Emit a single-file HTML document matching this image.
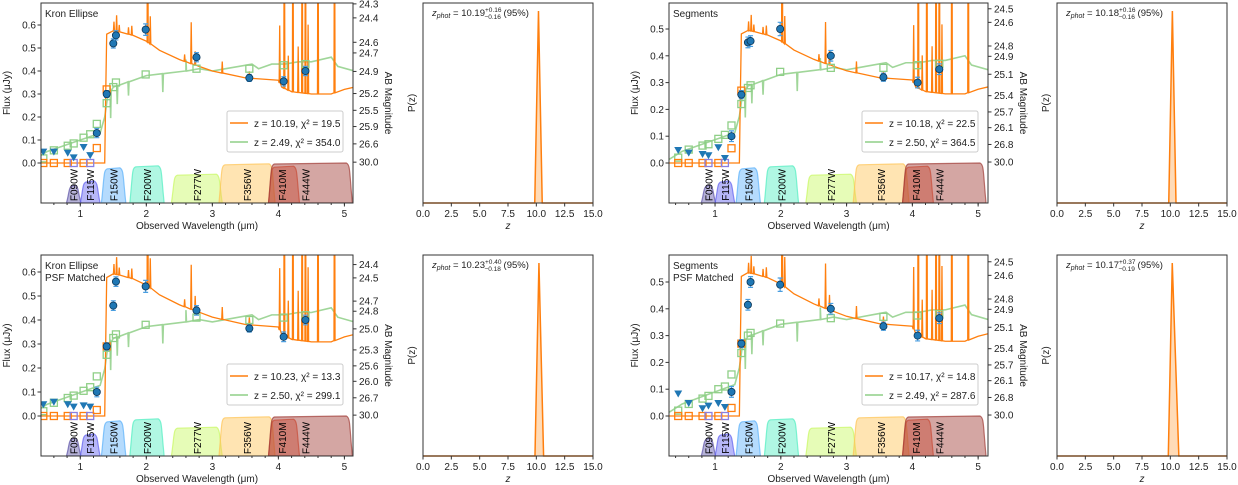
<!DOCTYPE html>
<html><head><meta charset="utf-8">
<style>
html,body{margin:0;padding:0;background:#fff;}
svg{display:block;font-family:"Liberation Sans","DejaVu Sans",sans-serif;}
</style></head>
<body>
<svg id="fig" width="1238" height="485" viewBox="0 0 1238 485" xmlns="http://www.w3.org/2000/svg"></svg>
<script>
// ---------- data ----------
const panelTitles = [["Kron Ellipse"],["Segments"],["Kron Ellipse","PSF Matched"],["Segments","PSF Matched"]];
const legendHigh = ["z = 10.19, χ² = 19.5","z = 10.18, χ² = 22.5","z = 10.23, χ² = 13.3","z = 10.17, χ² = 14.8"];
const legendLow = ["z = 2.49, χ² = 354.0","z = 2.50, χ² = 364.5","z = 2.50, χ² = 299.1","z = 2.49, χ² = 287.6"];
const detWl = [1.25,1.40,1.50,1.54,1.99,2.76,3.56,4.08,4.41];
const p1Det = [0.13,0.30,0.52,0.555,0.58,0.46,0.37,0.355,0.40];
const p2Det = [0.10,0.255,0.45,0.455,0.50,0.40,0.32,0.30,0.35];
const p3Det = [0.10,0.29,0.46,0.56,0.54,0.44,0.365,0.33,0.40];
const p4Det = [0.09,0.27,0.415,0.50,0.49,0.40,0.335,0.30,0.365];
const detErr = [0.02,0.015,0.02,0.02,0.025,0.02,0.015,0.02,0.02];
const limWl = [0.44,0.6,0.81,0.9,1.05,1.15];
const p1Lim = [0.045,0.045,0.04,0.02,0.065,0.03];
const p2Lim = [0.045,0.035,0.03,0.025,0.055,0.015];
const p3Lim = [0.045,0.055,0.045,0.035,0.04,0.035];
const p4Lim = [0.08,0.045,0.025,0.035,0.045,0.03];
const oSqWl = [0.44,0.6,0.81,0.9,1.05,1.15,1.25,1.40];
const p1OSq = [0,0,0,0,0,0,0.065,0.32];
const p2OSq = [0,0,0,0,0,0,0.055,0.27];
const p3OSq = [0,0,0,0,0,0,0.025,0.29];
const p4OSq = [0,0,0,0,0,0,0.03,0.27];
const gSqWl = [0.44,0.6,0.81,0.9,1.05,1.15,1.25,1.40,1.50,1.54,1.99,2.76,3.56,4.08,4.41];
const p1GSq = [0.02,0.055,0.075,0.085,0.11,0.125,0.17,0.26,0.33,0.35,0.385,0.41,0.41,0.425,0.43];
const p2GSq = [0.02,0.05,0.065,0.07,0.09,0.105,0.14,0.22,0.28,0.29,0.34,0.355,0.355,0.365,0.37];
const p3GSq = [0.02,0.055,0.075,0.085,0.105,0.12,0.165,0.255,0.325,0.34,0.38,0.41,0.40,0.41,0.42];
const p4GSq = [0.02,0.045,0.065,0.075,0.10,0.11,0.155,0.235,0.30,0.31,0.345,0.365,0.37,0.375,0.38];
// high-z template (continuum + emission lines)
const hiWl = [0.30,1.37,1.385,1.40,1.5,1.6,1.8,2.0,2.2,2.5,2.8,3.0,3.5,4.0,4.05,4.2,4.5,4.8,5.0,5.15];
const hiFlux = [0,0,0.3,0.56,0.575,0.57,0.555,0.53,0.49,0.45,0.42,0.40,0.37,0.36,0.33,0.31,0.30,0.30,0.32,0.33];
const hiLineWl = [1.51,1.55,1.59,1.73,1.78,2.02,2.06,2.58,2.68,2.74,3.15,3.56,4.02,4.09,4.15,4.22,4.30,4.36,4.41,4.45,4.6,4.85];
const hiLineAmp = [0.04,0.07,0.03,0.03,0.04,1.0,0.12,0.03,0.18,0.06,0.05,0.03,0.25,1.0,0.15,1.0,0.2,1.0,1.0,0.3,1.0,1.0];
// low-z template
const loWl = [0.30,0.5,0.7,0.9,1.1,1.3,1.37,1.42,1.5,1.7,2.0,2.3,2.6,2.8,3.0,3.2,3.4,3.6,3.7,3.9,4.1,4.3,4.5,4.8,4.9,5.15];
const loFlux = [0.015,0.05,0.07,0.09,0.11,0.13,0.2,0.30,0.33,0.35,0.38,0.39,0.40,0.41,0.40,0.41,0.42,0.43,0.41,0.43,0.43,0.44,0.44,0.46,0.42,0.40];
const loLineWl = [1.46,1.56,1.73,2.25,2.6];
const loLineAmp = [-0.12,-0.08,-0.06,-0.08,0.05];
const hiScale = [1,0.86,1.03,0.93];
const loScale = [1,0.87,0.98,0.9];
const p1Mag = [24.3,24.4,24.6,24.7,24.9,25.2,25.5,25.9,26.6,30.0];
const p2Mag = [24.5,24.6,24.8,24.9,25.1,25.4,25.7,26.1,26.8,30.0];
const p3Mag = [24.4,24.5,24.7,24.8,25.0,25.3,25.6,26.0,26.7,30.0];
const filtNames = ["F090W","F115W","F150W","F200W","F277W","F356W","F410M","F444W"];
const filtLo = [0.79,1.0,1.32,1.75,2.38,3.1,3.85,3.85];
const filtHi = [1.01,1.3,1.69,2.27,3.15,3.95,4.32,5.12];
const filtH = [0.45,0.55,0.88,0.93,0.72,0.98,0.92,1.0];
const filtCol = ["#5e54a8","#6060f0","#5ab0fa","#50eec0","#c8f860","#ffc455","#e85a3a","#a03a34"];
// P(z)
const zPhot = ["10.19","10.18","10.23","10.17"];
const zUp = ["+0.16","+0.16","+0.40","+0.37"];
const zLo = ["−0.16","−0.16","−0.18","−0.19"];
const pzZ1 = [0,9.86,10.19,10.52,15];
const pzZ2 = [0,9.86,10.18,10.50,15];
const pzZ3 = [0,9.88,10.23,10.64,15];
const pzZ4 = [0,9.82,10.17,10.75,15];
const pzP = [0,0,0.96,0,0];
const zTicks = [0,2.5,5,7.5,10,12.5,15];
const wlTicks = [1,2,3,4,5];

// ---------- layout ----------
const sedBox = [
 {x0:41,x1:353,y0:3,y1:203,wlL:0.405,wlR:5.13,yz:163,ps:230,yt:[0,0.1,0.2,0.3,0.4,0.5,0.6]},
 {x0:669,x1:988,y0:3,y1:203,wlL:0.30,wlR:5.15,yz:163,ps:268,yt:[0,0.1,0.2,0.3,0.4,0.5]},
 {x0:41,x1:353,y0:255,y1:456,wlL:0.405,wlR:5.13,yz:416,ps:240,yt:[0,0.1,0.2,0.3,0.4,0.5,0.6]},
 {x0:669,x1:988,y0:255,y1:456,wlL:0.30,wlR:5.15,yz:416,ps:268,yt:[0,0.1,0.2,0.3,0.4,0.5]}
];
const pzBox = [{x0:423,x1:593,y0:3,y1:203},{x0:1057,x1:1227,y0:3,y1:203},{x0:423,x1:593,y0:255,y1:456},{x0:1057,x1:1227,y0:255,y1:456}];
const dets=[p1Det,p2Det,p3Det,p4Det], lims=[p1Lim,p2Lim,p3Lim,p4Lim], osq=[p1OSq,p2OSq,p3OSq,p4OSq], gsq=[p1GSq,p2GSq,p3GSq,p4GSq];
const mags=[p1Mag,p2Mag,p3Mag,p2Mag], pzZs=[pzZ1,pzZ2,pzZ3,pzZ4];

const NS="http://www.w3.org/2000/svg";
const svg=document.getElementById('fig');
function el(tag,attrs,parent,text){const e=document.createElementNS(NS,tag);for(const k in attrs)e.setAttribute(k,attrs[k]);if(text!==undefined)e.textContent=text;(parent||svg).appendChild(e);return e;}
function interp(xs,ys,x){if(x<=xs[0])return ys[0];for(let i=1;i<xs.length;i++){if(x<=xs[i]){const t=(x-xs[i-1])/(xs[i]-xs[i-1]);return ys[i-1]+t*(ys[i]-ys[i-1]);}}return ys[ys.length-1];}
function spectrum(cw,cf,lw,la,sc){let pts=cw.map((w,i)=>[w,cf[i]*sc]);lw.forEach((w,i)=>{const c=interp(cw,cf,w)*sc;pts.push([w-0.008,c],[w,c+la[i]*(la[i]>=1?1:sc)],[w+0.008,c]);});pts.sort((a,b)=>a[0]-b[0]);return pts;}

for(let p=0;p<4;p++){
 const B=sedBox[p];
 const X=w=>B.x0+(w-B.wlL)/(B.wlR-B.wlL)*(B.x1-B.x0);
 const Y=f=>B.yz-f*B.ps;
 const g=el('g',{});
 
 
 const cp=el('clipPath',{id:'c'+p},g);el('rect',{x:B.x0,y:B.y0,width:B.x1-B.x0,height:B.y1-B.y0},cp);
 const inner=el('g',{'clip-path':'url(#c'+p+')'},g);
 // filters
 filtNames.forEach((n,i)=>{
  const top=B.y1-(B.y1-B.yz)*filtH[i];
  const a=X(filtLo[i]),b=X(filtHi[i]);
  const d=`M${a},${B.y1} C${a+3},${top+8} ${a+2},${top+2} ${a+6},${top+1} L${b-6},${top} C${b-2},${top+2} ${b-3},${top+8} ${b},${B.y1} Z`;
  const f=el('path',{d:d,fill:filtCol[i],'fill-opacity':0.45,stroke:filtCol[i],'stroke-opacity':0.7,'stroke-width':1.2},inner);
  
  
 });
 filtNames.forEach((n,i)=>{
  const cx=(X(filtLo[i])+X(filtHi[i]))/2 + (i==7?-5:0) + (i==6?-2:0);
  const cy=B.y1-(B.y1-B.yz)*0.45;
  const t=el('text',{x:0,y:0,transform:`translate(${cx+4},${cy}) rotate(-90)`,'font-size':10,'text-anchor':'middle',fill:'#000'},inner,n);
  
  
 });
 // spectra
 const lo=spectrum(loWl,loFlux,loLineWl,loLineAmp,loScale[p]);
 const lp=el('polyline',{points:lo.map(q=>X(q[0])+','+Y(q[1])).join(' '),fill:'none',stroke:'#8fcf87','stroke-width':1.6,'stroke-opacity':0.85},inner);
 
 
 const hi=spectrum(hiWl,hiFlux,hiLineWl,hiLineAmp,hiScale[p]);
 const hp=el('polyline',{points:hi.map(q=>X(q[0])+','+Y(q[1])).join(' '),fill:'none',stroke:'#ff7f0e','stroke-width':1.3},inner);
 
 
 // model photometry squares
 gSqWl.forEach((w,i)=>{const s=el('rect',{x:X(w)-3.5,y:Y(gsq[p][i])-3.5,width:7,height:7,fill:'none',stroke:'#8fcf87','stroke-width':1.3},inner);
  });
 oSqWl.forEach((w,i)=>{const s=el('rect',{x:X(w)-3.5,y:Y(osq[p][i])-3.5,width:7,height:7,fill:'none',stroke:(i==3||i==5)?'#8a80e0':'#ff7f0e','stroke-width':1.3},inner);
  });
 // upper limits
 limWl.forEach((w,i)=>{const x=X(w),y=Y(lims[p][i]);const t=el('path',{d:`M${x-4},${y-4} L${x+4},${y-4} L${x},${y+3} Z`,fill:'#1f77b4'},inner);
  });
 // detections
 detWl.forEach((w,i)=>{const x=X(w),y=Y(dets[p][i]),e=detErr[i]*B.ps;
  const eb=el('path',{d:`M${x},${y-e} V${y+e} M${x-2.5},${y-e} H${x+2.5} M${x-2.5},${y+e} H${x+2.5}`,stroke:'#4a9ee0','stroke-width':1.2,fill:'none'},inner);
  
  const c=el('circle',{cx:x,cy:y,r:3.6,fill:'#1f77b4',stroke:'#0b3556','stroke-width':0.8},inner);
  });
 // frame
 el('rect',{x:B.x0,y:B.y0,width:B.x1-B.x0,height:B.y1-B.y0,fill:'none',stroke:'#333','stroke-width':1},g);
 // y ticks
 B.yt.forEach(v=>{const y=Y(v);el('line',{x1:B.x0-3.5,x2:B.x0,y1:y,y2:y,stroke:'#333'},g);
  const t=el('text',{x:B.x0-5,y:y+3.5,'font-size':10,'text-anchor':'end',fill:'#222'},g,v.toFixed(1));
  });
 // x ticks
 for(let w=Math.ceil(B.wlL*5)/5;w<=B.wlR;w+=0.2){el('line',{x1:X(w),x2:X(w),y1:B.y1,y2:B.y1+2,stroke:'#333'},g);}
 wlTicks.forEach(w=>{const x=X(w);el('line',{x1:x,x2:x,y1:B.y1,y2:B.y1+3.5,stroke:'#333'},g);
  const t=el('text',{x:x,y:B.y1+14,'font-size':10,'text-anchor':'middle',fill:'#222'},g,String(w));
  });
 // right mag ticks
 mags[p].forEach(m=>{const f=Math.pow(10,(23.9-m)/2.5);const y=Y(f);el('line',{x1:B.x1,x2:B.x1+3.5,y1:y,y2:y,stroke:'#333'},g);
  const t=el('text',{x:B.x1+6,y:y+3.5,'font-size':10,fill:'#222'},g,m.toFixed(1));
  });
 // axis labels
 const cy=(B.y0+B.y1)/2;
 const yl=el('text',{transform:`translate(${B.x0-31},${cy-10}) rotate(-90)`,'font-size':10,'text-anchor':'middle',fill:'#222'},g,'Flux (μJy)');
 
 const rl=el('text',{transform:`translate(${B.x1+32},${cy}) rotate(90)`,'font-size':10,'text-anchor':'middle',fill:'#222'},g,'AB Magnitude');
 
 const xl=el('text',{x:(B.x0+B.x1)/2,y:B.y1+26,'font-size':10,'text-anchor':'middle',fill:'#222'},g,'Observed Wavelength (μm)');
 
 panelTitles[p].forEach((s,i)=>{const t=el('text',{x:B.x0+4,y:B.y0+14+i*12,'font-size':10,fill:'#222'},g,s);
  });
 // legend
 const lx=B.x1-126,ly=B.yz-52;
 const lg=el('g',{},g);
 
 el('rect',{x:lx,y:ly,width:116,height:41,rx:2,fill:'#fff',stroke:'#ccc'},lg);
 el('line',{x1:lx+3,x2:lx+21,y1:ly+12,y2:ly+12,stroke:'#ff7f0e','stroke-width':1.5},lg);
 el('line',{x1:lx+3,x2:lx+21,y1:ly+31,y2:ly+31,stroke:'#8fcf87','stroke-width':1.5},lg);
 const e1=el('text',{x:lx+27,y:ly+16,'font-size':10,fill:'#222'},lg,legendHigh[p]);
 
 const e2=el('text',{x:lx+27,y:ly+35,'font-size':10,fill:'#222'},lg,legendLow[p]);
 

 // ---- P(z) panel ----
 const P=pzBox[p];
 const ZX=z=>P.x0+z/15*(P.x1-P.x0);
 const PY=v=>P.y1-v*(P.y1-P.y0);
 const pg=el('g',{});
 
 
 const zs=pzZs[p];
 const pts=zs.map((z,i)=>ZX(z)+','+PY(pzP[i])).join(' ');
 const fa=el('polygon',{points:pts,fill:'#ffcc99','fill-opacity':0.7},pg);
 
 const pl=el('polyline',{points:pts,fill:'none',stroke:'#ff7f0e','stroke-width':1.5},pg);
 
 el('rect',{x:P.x0,y:P.y0,width:P.x1-P.x0,height:P.y1-P.y0,fill:'none',stroke:'#333'},pg);
 zTicks.forEach(z=>{const x=ZX(z);el('line',{x1:x,x2:x,y1:P.y1,y2:P.y1+3.5,stroke:'#333'},pg);
  const t=el('text',{x:x,y:P.y1+14,'font-size':10,'text-anchor':'middle',fill:'#222'},pg,z.toFixed(1));
  });
 const zl=el('text',{x:(P.x0+P.x1)/2,y:P.y1+26,'font-size':10,'text-anchor':'middle','font-style':'italic',fill:'#222'},pg,'z');
 
 const pyl=el('text',{transform:`translate(${P.x0-8},${(P.y0+P.y1)/2}) rotate(-90)`,'font-size':10,'text-anchor':'middle',fill:'#222'},pg,'P(z)');
 
 const ann=el('text',{x:P.x0+9,y:P.y0+13,'font-size':9.5,fill:'#222'},pg);
 
 el('tspan',{'font-style':'italic'},ann,'z');
 el('tspan',{'font-style':'italic','font-size':7,dy:2},ann,'phot');
 el('tspan',{dy:-2},ann,' = '+zPhot[p]);
 el('tspan',{'font-size':6.5,dy:-4},ann,zUp[p]);
 el('tspan',{'font-size':6.5,dy:7,dx:-17},ann,zLo[p]);
 el('tspan',{dy:-3},ann,' (95%)');
}
</script>
</body></html>
